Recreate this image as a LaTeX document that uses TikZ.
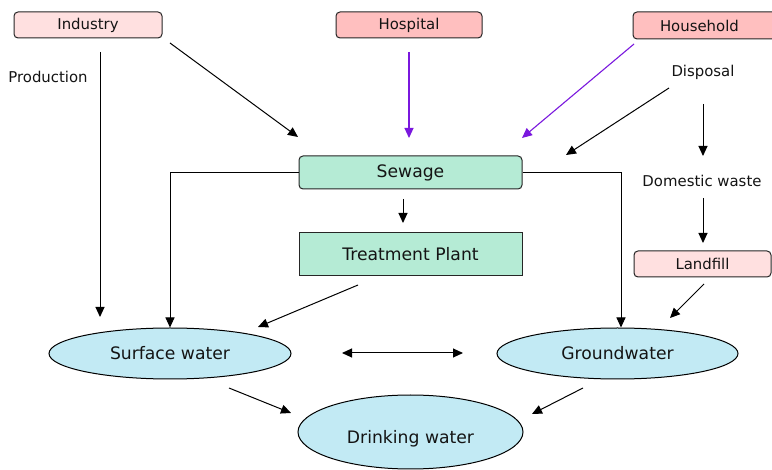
\documentclass[tikz,border=0pt]{standalone}
\usepackage{fontspec}
\setmainfont{DejaVu Sans}
\usetikzlibrary{arrows.meta,shapes.geometric}
\definecolor{pinkA}{RGB}{255,224,224}
\definecolor{pinkB}{RGB}{255,191,191}
\definecolor{greenbox}{RGB}{181,235,213}
\definecolor{bluefill}{RGB}{194,234,244}
\definecolor{purpleline}{RGB}{122,24,222}
\definecolor{txt}{RGB}{20,20,20}
\tikzset{
  x=1pt,y=1pt,
  smalltext/.style={font=\fontsize{14.9}{17}\selectfont, text=txt},
  bigtext/.style={font=\fontsize{17.2}{20}\selectfont, text=txt},
  srcbox/.style={draw=black!85, line width=1pt, rounded corners=4pt, inner sep=0pt, smalltext},
  greenrect/.style={draw=black!85, line width=1pt, fill=greenbox, inner sep=0pt, bigtext},
  waterell/.style={ellipse, draw=black, line width=1pt, fill=bluefill, inner sep=0pt, bigtext},
  arr/.style={-{Triangle[length=10pt,width=9pt]}, line width=1pt, black},
  parr/.style={-{Triangle[length=10pt,width=9pt]}, line width=1.1pt, purpleline},
  darr/.style={{Triangle[length=10pt,width=9pt]}-{Triangle[length=10pt,width=9pt]}, line width=1pt, black},
  plain/.style={line width=1pt, black}
}
\begin{document}
\begin{tikzpicture}
\useasboundingbox (0,0) rectangle (772,-470);
\fill[white] (0,0) rectangle (772,-470);
% source boxes
\node[srcbox, fill=pinkA, minimum width=148pt, minimum height=26pt] (industry) at (88,-25) {Industry};
\node[srcbox, fill=pinkB, minimum width=146pt, minimum height=26pt] (hospital) at (409,-25) {Hospital};
\node[srcbox, fill=pinkB, minimum width=152pt, minimum height=27pt, text width=140pt, align=left] (household) at (709,-25.5) {\hspace*{21pt}Household};
\node[srcbox, fill=pinkA, minimum width=137pt, minimum height=26pt] (landfill) at (702.5,-264) {Landfill};
% labels
\node[smalltext] (production) at (48,-77) {Production};
\node[smalltext] (disposal) at (703,-72) {Disposal};
\node[smalltext] (domestic) at (702,-181) {Domestic waste};
% green boxes
\node[greenrect, rounded corners=4pt, minimum width=223pt, minimum height=33pt] (sewage) at (410.5,-172.5) {Sewage};
\node[greenrect, minimum width=223pt, minimum height=43pt] (treatment) at (410.5,-254.5) {Treatment Plant};
% ellipses
\node[waterell, minimum width=242pt, minimum height=51pt] (surface) at (170,-353.5) {Surface water};
\node[waterell, minimum width=241pt, minimum height=51pt] (ground) at (617.5,-353.5) {Groundwater};
\node[waterell, minimum width=225pt, minimum height=74pt, label={[bigtext, yshift=-7pt]center:Drinking water}] (drinking) at (410.5,-432) {};
% free ends
\coordinate (pA) at (100,-52);
\coordinate (pB) at (100,-317);
\coordinate (iA) at (170,-43);
\coordinate (iB) at (298,-137);
\coordinate (hA) at (409,-52);
\coordinate (hB) at (409,-138);
\coordinate (hhA) at (634,-44);
\coordinate (hhB) at (522,-138);
\coordinate (dA) at (669,-88);
\coordinate (dB) at (566,-155);
\coordinate (dC) at (703,-104);
\coordinate (dD) at (703,-156);
\coordinate (wA) at (703,-198);
\coordinate (wB) at (703,-243);
\coordinate (sA) at (403,-199);
\coordinate (sB) at (403,-223);
\coordinate (tA) at (358,-285);
\coordinate (tB) at (258,-327);
\coordinate (lA) at (704,-284);
\coordinate (lB) at (670,-318);
\coordinate (bA) at (342,-353);
\coordinate (bB) at (463,-353);
\coordinate (swA) at (229,-388);
\coordinate (swB) at (291,-413);
\coordinate (gwA) at (583,-388);
\coordinate (gwB) at (532,-414);
\coordinate (leftc) at (170,-172.5);
\coordinate (rightc) at (621,-172.5);
% connectors
\draw[arr] (pA) -- (pB);
\draw[arr] (iA) -- (iB);
\draw[parr] (hA) -- (hB);
\draw[parr] (hhA) -- (hhB);
\draw[arr] (dA) -- (dB);
\draw[arr] (dC) -- (dD);
\draw[arr] (wA) -- (wB);
\draw[arr] (sA) -- (sB);
\draw[arr] (tA) -- (tB);
\draw[arr] (lA) -- (lB);
\draw[darr] (bA) -- (bB);
\draw[arr] (swA) -- (swB);
\draw[arr] (gwA) -- (gwB);
\draw[arr] (sewage.west) -- (leftc) -- (170,-327.5);
\draw[arr] (sewage.east) -- (rightc) -- (621,-327.5);
\end{tikzpicture}
\end{document}
